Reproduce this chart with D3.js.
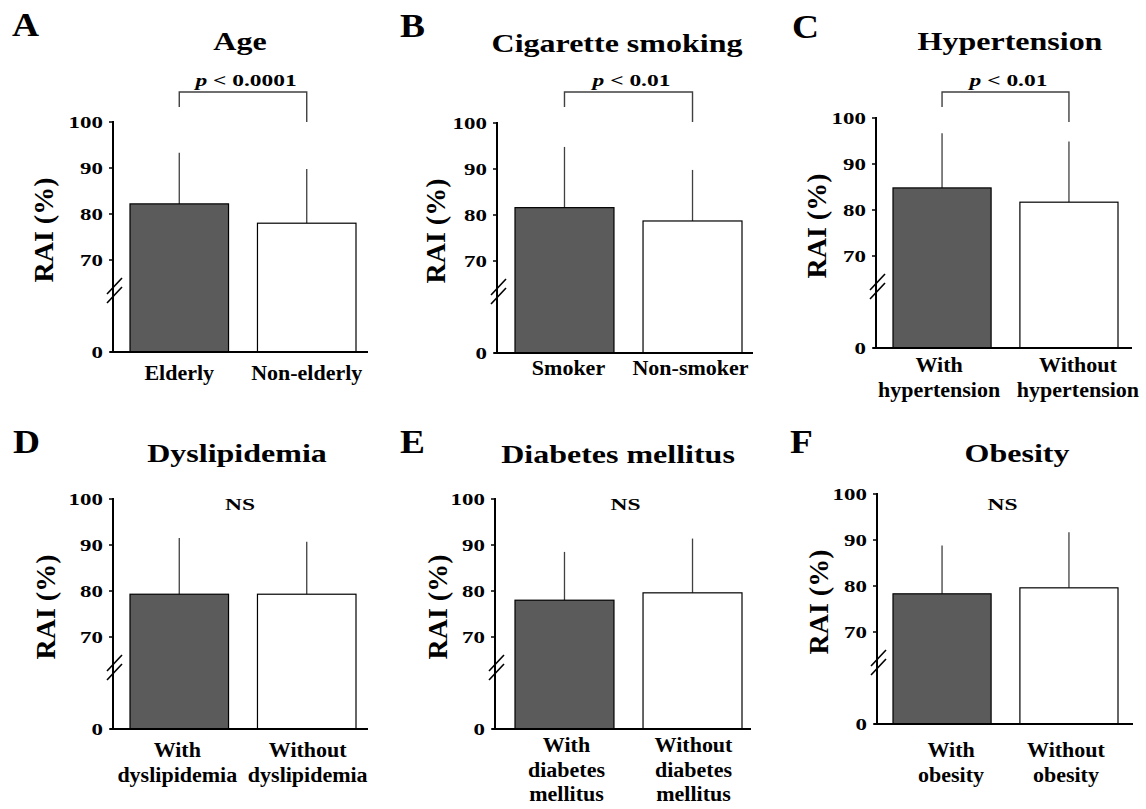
<!DOCTYPE html>
<html>
<head>
<meta charset="utf-8">
<script src="https://cdn.jsdelivr.net/npm/d3@7"></script>
<style>
  html, body { margin: 0; padding: 0; background: #fff; }
  svg { display: block; }
  text { font-family: "Liberation Serif", "Times New Roman", serif; font-weight: bold; fill: #000; }
</style>
</head>
<body>
<svg id="chart" width="1146" height="809"></svg>
<script>
// ---------------- DATA ----------------
const panelLetters = ["A", "B", "C", "D", "E", "F"];
const panelTitles = ["Age", "Cigarette smoking", "Hypertension", "Dyslipidemia", "Diabetes mellitus", "Obesity"];
const groupLabels = [
  [["Elderly"], ["Non-elderly"]],
  [["Smoker"], ["Non-smoker"]],
  [["With", "hypertension"], ["Without", "hypertension"]],
  [["With", "dyslipidemia"], ["Without", "dyslipidemia"]],
  [["With", "diabetes", "mellitus"], ["Without", "diabetes", "mellitus"]],
  [["With", "obesity"], ["Without", "obesity"]]
];
const meanValues = [
  [82.2, 78.0],
  [81.6, 78.7],
  [84.8, 81.7],
  [79.3, 79.3],
  [78.0, 79.6],
  [78.3, 79.6]
];
const sdValues = [
  [11.1, 11.8],
  [13.2, 11.1],
  [11.9, 13.2],
  [12.2, 11.4],
  [10.5, 11.8],
  [10.5, 12.1]
];
const significance = ["p < 0.0001", "p < 0.01", "p < 0.01", "NS", "NS", "NS"];
const yTickValues = [0, 70, 80, 90, 100];
const yAxisTitle = "RAI (%)";

// ---------------- LAYOUT ----------------
const layout = [
  {ax: 113, top: 122, xEnd: 368, bx0: 130, bx1: 356, letterX: 12, letterY: 36, titleX: 240, titleY: 50, ylabX: 53, xlabY: 380, labShift: [0, 0]},
  {ax: 497, top: 123, xEnd: 753, bx0: 515, bx1: 742, letterX: 400, letterY: 37, titleX: 617, titleY: 52, ylabX: 445, xlabY: 375, labShift: [4, -2]},
  {ax: 876, top: 118, xEnd: 1132, bx0: 893, bx1: 1118, letterX: 792, letterY: 38, titleX: 1010, titleY: 50, ylabX: 826, xlabY: 372, labShift: [-3, 9]},
  {ax: 113, top: 499, xEnd: 368, bx0: 130, bx1: 356, letterX: 13, letterY: 453, titleX: 237, titleY: 462, ylabX: 55, xlabY: 757, labShift: [-2, 1]},
  {ax: 495, top: 499, xEnd: 751, bx0: 515, bx1: 742, letterX: 400, letterY: 453, titleX: 618, titleY: 463, ylabX: 447, xlabY: 752, labShift: [2, 1]},
  {ax: 877, top: 494, xEnd: 1133, bx0: 893, bx1: 1118, letterX: 790, letterY: 453, titleX: 1017, titleY: 462, ylabX: 828, xlabY: 757, labShift: [9, -3]}
];

const DARK = "#5b5b5b";
const LINE = "#404040";
const svg = d3.select("#chart");

function stretchedText(g, x, y, str, size, sx, anchor) {
  return g.append("text")
    .attr("transform", `translate(${x},${y}) scale(${sx},1)`)
    .attr("text-anchor", anchor || "middle")
    .style("font-size", size + "px")
    .text(str);
}

layout.forEach((L, i) => {
  const g = svg.append("g");
  const cats = groupLabels[i].map(d => d.join(" "));
  const x = d3.scaleBand().domain(cats).range([L.bx0, L.bx1]).paddingInner(0.227).paddingOuter(0);
  const y0 = L.top + 230;
  const y = d3.scaleLinear().domain([0, 70, 100]).range([y0, L.top + 138, L.top]);

  // panel letter
  stretchedText(g, L.letterX, L.letterY, panelLetters[i], 34, 1.1, "start");
  // title
  stretchedText(g, L.titleX, L.titleY, panelTitles[i], 25, 1.28);

  // bars
  const data = cats.map((c, j) => ({c, m: meanValues[i][j], sd: sdValues[i][j], j}));
  // error bars (upward only)
  g.selectAll("line.err").data(data).enter().append("line")
    .attr("x1", d => x(d.c) + x.bandwidth() / 2)
    .attr("x2", d => x(d.c) + x.bandwidth() / 2)
    .attr("y1", d => y(d.m))
    .attr("y2", d => y(d.m + d.sd))
    .attr("stroke", LINE).attr("stroke-width", 1.3);
  g.selectAll("rect.bar").data(data).enter().append("rect")
    .attr("x", d => x(d.c))
    .attr("y", d => y(d.m))
    .attr("width", x.bandwidth())
    .attr("height", d => y0 - y(d.m))
    .attr("fill", d => d.j === 0 ? DARK : "#fff")
    .attr("stroke", "#000").attr("stroke-width", 1.2);

  // y axis line
  g.append("line").attr("x1", L.ax).attr("x2", L.ax).attr("y1", y(100) - 1).attr("y2", y0)
    .attr("stroke", "#000").attr("stroke-width", 2);
  // ticks
  g.selectAll("line.tick").data(yTickValues).enter().append("line")
    .attr("x1", L.ax - 4).attr("x2", L.ax).attr("y1", d => y(d)).attr("y2", d => y(d))
    .attr("stroke", "#000").attr("stroke-width", 1.5);
  yTickValues.forEach(v => {
    stretchedText(g, L.ax - 10, y(v) + 6, String(v), 17, 1.35, "end");
  });
  // x axis line
  g.append("line").attr("x1", L.ax - 3).attr("x2", L.xEnd).attr("y1", y0).attr("y2", y0)
    .attr("stroke", "#000").attr("stroke-width", 2.2);

  // axis break marks
  [0, 9].forEach(off => {
    g.append("line")
      .attr("x1", L.ax - 6).attr("y1", L.top + 172 + off)
      .attr("x2", L.ax + 9).attr("y2", L.top + 156 + off)
      .attr("stroke", "#000").attr("stroke-width", 1.6);
  });

  // y axis title
  g.append("text")
    .attr("transform", `translate(${L.ylabX},${L.top + 108}) rotate(-90)`)
    .attr("text-anchor", "middle")
    .style("font-size", "28px")
    .text(yAxisTitle);

  // x labels
  data.forEach(d => {
    const cx = x(d.c) + x.bandwidth() / 2 + L.labShift[d.j];
    groupLabels[i][d.j].forEach((line, k) => {
      stretchedText(g, cx, L.xlabY + k * 24.5, line, 20, 1.1);
    });
  });

  // significance
  const c1 = x(cats[0]) + x.bandwidth() / 2;
  const c2 = x(cats[1]) + x.bandwidth() / 2;
  if (significance[i] !== "NS") {
    const by = 92;
    g.append("path")
      .attr("d", `M${c1},${by + 15} V${by} H${c2} V${by + 30}`)
      .attr("fill", "none").attr("stroke", LINE).attr("stroke-width", 1.4);
    const t = g.append("text")
      .attr("transform", `translate(${(c1 + c2) / 2 + 3},86) scale(1.38,1)`)
      .attr("text-anchor", "middle")
      .style("font-size", "17px");
    const parts = significance[i].split(" ");
    t.append("tspan").style("font-style", "italic").text(parts[0]);
    t.append("tspan").text(" " + parts.slice(1).join(" "));
  } else {
    stretchedText(g, (c1 + c2) / 2 - 3, 510, "NS", 17, 1.38);
  }
});
</script>
</body>
</html>
